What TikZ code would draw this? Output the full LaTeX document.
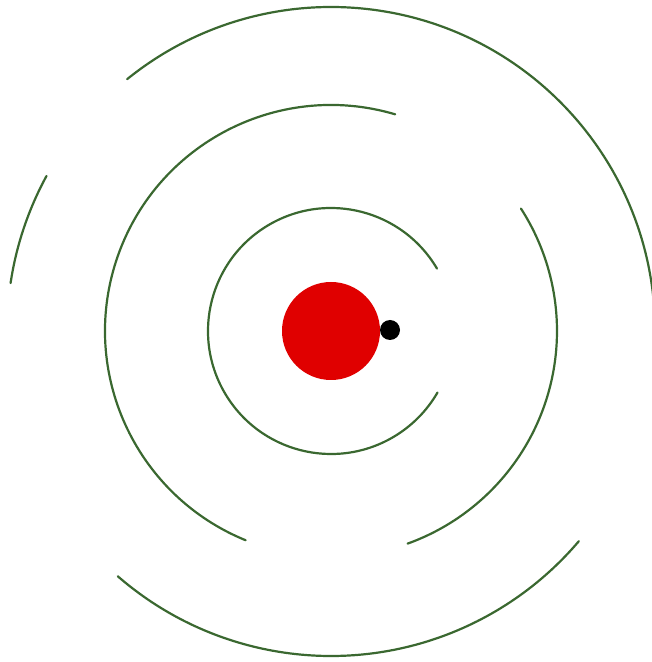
\documentclass[tikz,border=0pt]{standalone}
\definecolor{ringgreen}{RGB}{58,104,48}
\definecolor{sunred}{RGB}{224,0,0}
\tikzset{
  ring/.style={draw=ringgreen, line width=2.2pt, line cap=round},
  sun/.style={circle, fill=sunred, minimum size=98pt, inner sep=0pt},
  planet/.style={circle, fill=black, minimum size=20pt, inner sep=0pt}
}
\begin{document}
\begin{tikzpicture}[x=1pt,y=1pt]
\useasboundingbox (0,0) rectangle (652,662);
\clip (0,0) rectangle (652,662);
\coordinate (c) at (331,331);
% inner ring
\draw[ring] (c) ++(30.5:123) arc[start angle=30.5, end angle=330, radius=123];
% middle ring
\draw[ring] (c) ++(73.5:226) arc[start angle=73.5, end angle=247.8, radius=226];
\draw[ring] (c) ++(-70.2:226) arc[start angle=-70.2, end angle=32.8, radius=226];
% outer ring
\draw[ring] (c) ++(-4:324) arc[start angle=-4, end angle=129, radius=324];
\draw[ring] (c) ++(151.4:324) arc[start angle=151.4, end angle=171.5, radius=324];
\draw[ring] (c) ++(229:325) arc[start angle=229, end angle=319.7, radius=325];
% bodies
\node[sun] (s) at (c) {};
\node[planet] (p) at (390,332) {};
\end{tikzpicture}
\end{document}
